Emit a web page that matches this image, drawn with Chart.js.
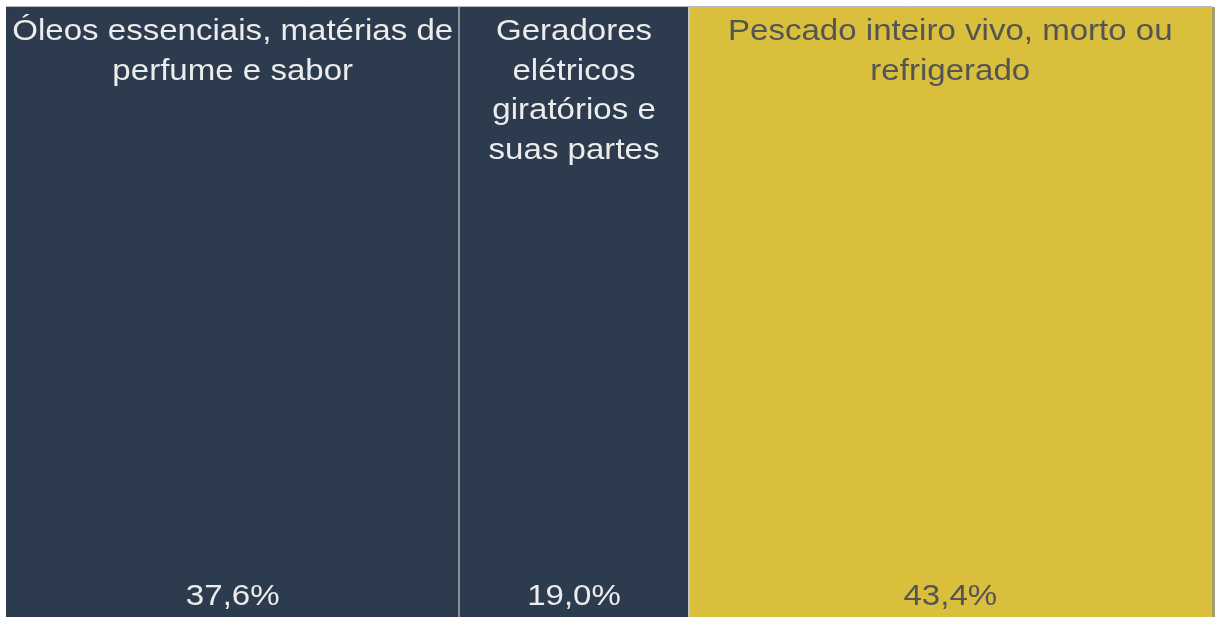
<!DOCTYPE html>
<html>
<head>
<meta charset="utf-8">
<script src="https://cdn.jsdelivr.net/npm/chart.js@4"></script>
<style>
html,body{margin:0;padding:0;background:#ffffff;}
#wrap{width:1216px;height:617px;position:relative;}
</style>
</head>
<body>
<div id="wrap"><canvas id="c" width="1216" height="617"></canvas></div>
<script>
const categories = ["Óleos essenciais, matérias de perfume e sabor", "Geradores elétricos giratórios e suas partes", "Pescado inteiro vivo, morto ou refrigerado"];
const shares = [37.6, 19.0, 43.4];
const shareLabels = ["37,6%", "19,0%", "43,4%"];
const fillColors = ["#2c3b4e", "#2c3b4e", "#d9bf3c"];
const textColors = ["#ececec", "#ececec", "#545454"];

const FONT = '"Liberation Sans", Arial, sans-serif';
const SX = 1.14;

function wrap(ctx, text, maxW) {
  const words = text.split(' ');
  const lines = [];
  let cur = '';
  for (const w of words) {
    const t = cur ? cur + ' ' + w : w;
    if (ctx.measureText(t).width * SX > maxW && cur) { lines.push(cur); cur = w; }
    else cur = t;
  }
  if (cur) lines.push(cur);
  return lines;
}

function drawText(ctx, s, x, y) {
  ctx.save();
  ctx.translate(x, y);
  ctx.scale(SX, 1);
  ctx.fillText(s, 0, 0);
  ctx.restore();
}

const labelPlugin = {
  id: 'cellLabels',
  afterDatasetsDraw(chart) {
    const ctx = chart.ctx;
    const area = chart.chartArea;
    const xs = chart.scales.x;
    ctx.save();
    ctx.strokeStyle = '#b8b8b8';
    ctx.lineWidth = 1;
    ctx.beginPath(); ctx.moveTo(area.left, area.top - 0.5); ctx.lineTo(area.right, area.top - 0.5); ctx.stroke();
    ctx.fillStyle = '#a39f72';
    ctx.fillRect(area.right, area.top, 3, area.bottom - area.top);
    let cum = 0;
    for (let i = 0; i < shares.length - 1; i++) {
      cum += shares[i];
      const px = xs.getPixelForValue(cum);
      ctx.fillStyle = i === 0 ? '#8a8f96' : '#c4c4c4';
      ctx.fillRect(Math.round(px) - 1, area.top, 2, area.bottom - area.top);
    }
    chart.data.datasets.forEach((ds, i) => {
      const el = chart.getDatasetMeta(i).data[0];
      const left = Math.min(el.x, el.base), right = Math.max(el.x, el.base);
      const cx = (left + right) / 2;
      ctx.font = '29px ' + FONT;
      ctx.fillStyle = textColors[i];
      ctx.textAlign = 'center';
      ctx.textBaseline = 'alphabetic';
      const lines = wrap(ctx, categories[i], right - left - 2);
      lines.forEach((ln, k) => drawText(ctx, ln, cx, area.top + 33 + k * 39.5));
      drawText(ctx, shareLabels[i], cx, 605);
    });
    ctx.restore();
  }
};

new Chart(document.getElementById('c'), {
  type: 'bar',
  data: {
    labels: ['total'],
    datasets: categories.map((c, i) => ({
      label: c,
      data: [shares[i]],
      backgroundColor: fillColors[i],
      borderWidth: 0,
      barPercentage: 1,
      categoryPercentage: 1
    }))
  },
  options: {
    indexAxis: 'y',
    responsive: false,
    animation: false,
    layout: { padding: { left: 6, top: 7, right: 4, bottom: 0 } },
    scales: {
      x: { stacked: true, min: 0, max: 100, display: false },
      y: { stacked: true, display: false }
    },
    plugins: { legend: { display: false }, tooltip: { enabled: false } }
  },
  plugins: [labelPlugin]
});
</script>
</body>
</html>
